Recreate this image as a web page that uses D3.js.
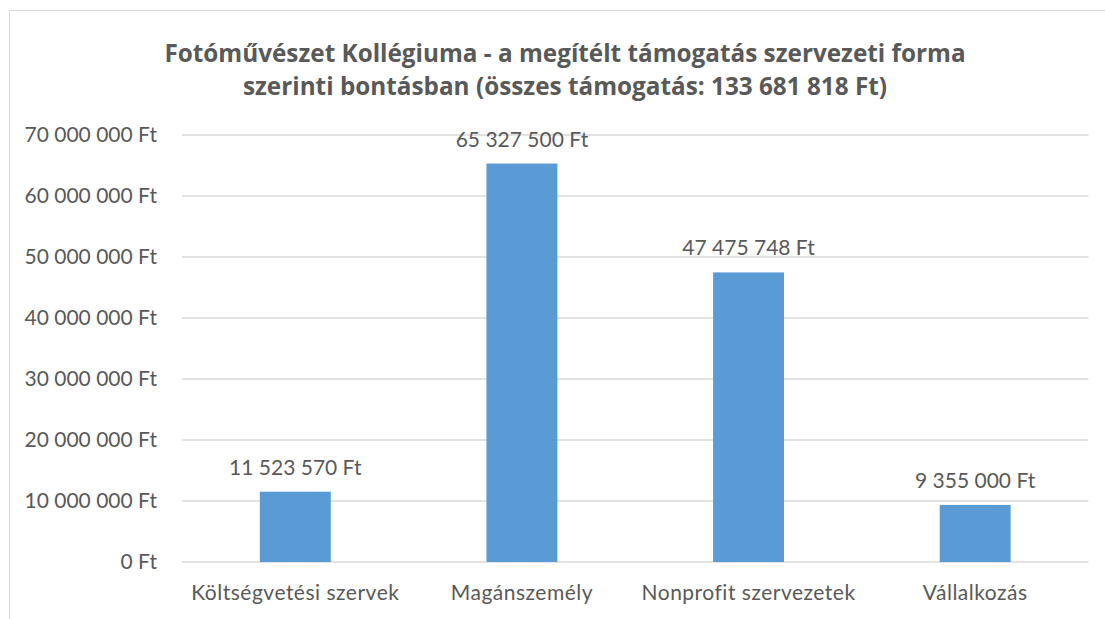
<!DOCTYPE html>
<html><head><meta charset="utf-8">
<script src="https://cdn.jsdelivr.net/npm/d3@7"></script>
<style>body{margin:0;background:#fff}svg{display:block}text{font-family:Lato,sans-serif;fill:#595959}</style>
</head><body><svg id="c" width="1105" height="619"></svg>
<script>
const categories = ["Költségvetési szervek","Magánszemély","Nonprofit szervezetek","Vállalkozás"];
const values = [11523570, 65327500, 47475748, 9355000];
const yTicks = [0,10000000,20000000,30000000,40000000,50000000,60000000,70000000];
const titleLines = ["Fotóművészet Kollégiuma - a megítélt támogatás szervezeti forma","szerinti bontásban (összes támogatás: 133 681 818 Ft)"];

const fmt = v => d3.format(",")(v).replace(/,/g," ") + " Ft";
const svg = d3.select("#c");
const m={left:182,right:1088.5,top:135,bottom:562};
const FS="21px";
svg.append("rect").attr("x",9.5).attr("y",10.5).attr("width",1120).attr("height",700).attr("fill","none").attr("stroke","#d9d9d9").attr("stroke-width",1);

const x=d3.scaleBand().domain(categories).range([m.left,m.right]).paddingInner(0.687).paddingOuter(0.3435);
const y=d3.scaleLinear().domain([0,70000000]).range([m.bottom,m.top]);

const g=svg.append("g");
g.selectAll("line.grid").data(yTicks).join("line").attr("class","grid")
 .attr("x1",m.left).attr("x2",m.right).attr("y1",d=>y(d)).attr("y2",d=>y(d))
 .attr("stroke","#d9d9d9").attr("stroke-width",1.3);

const yAxis=d3.axisLeft(y).tickValues(yTicks).tickFormat(fmt).tickSize(0).tickPadding(0);
const ya=svg.append("g").attr("transform","translate(157,0)").call(yAxis);
ya.select(".domain").remove();
ya.selectAll("text").style("font-size",FS).style("font-family","Lato,sans-serif").attr("fill","#595959");

g.selectAll("rect.bar").data(values).join("rect").attr("class","bar")
 .attr("x",(d,i)=>x(categories[i])).attr("width",x.bandwidth())
 .attr("y",d=>y(d)).attr("height",d=>y(0)-y(d)).attr("fill","#5b9bd5");

g.selectAll("text.lbl").data(values).join("text").attr("class","lbl")
 .attr("x",(d,i)=>x(categories[i])+x.bandwidth()/2).attr("y",d=>y(d)-17)
 .attr("text-anchor","middle").style("font-size",FS).text(d=>fmt(d));

const xAxis=d3.axisBottom(x).tickSize(0).tickPadding(0);
const xa=svg.append("g").attr("transform",`translate(0,${m.bottom})`).call(xAxis);
xa.select(".domain").remove();
xa.selectAll("text").attr("dy",0).attr("y",38).style("font-size",FS).style("letter-spacing","0.5px").style("font-family","Lato,sans-serif").attr("fill","#595959");

svg.selectAll("text.title").data(titleLines).join("text").attr("class","title")
 .attr("x",565).attr("y",(d,i)=>62+i*33).attr("text-anchor","middle")
 .style("font-family",'"Open Sans",sans-serif')
 .style("font-size","24.3px").style("font-weight","bold").text(d=>d);
</script></body></html>
